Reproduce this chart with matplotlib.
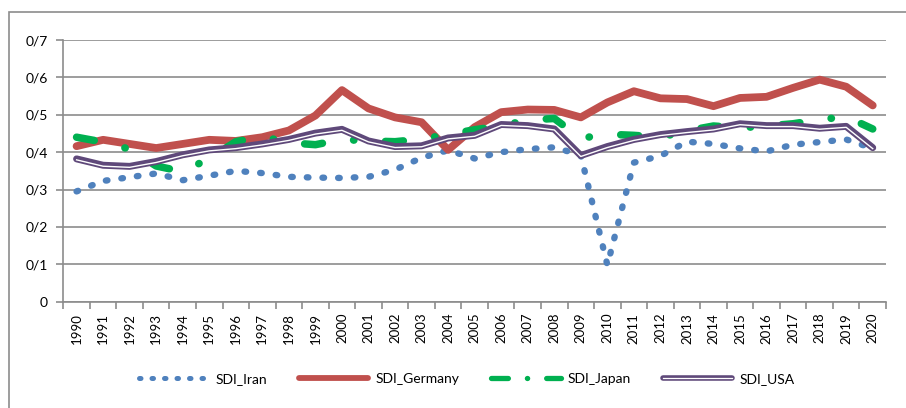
import matplotlib
matplotlib.use("Agg")
import matplotlib.pyplot as plt
import matplotlib.transforms as mtransforms
from matplotlib.lines import Line2D
from matplotlib.patches import Rectangle
from matplotlib.ticker import FixedLocator, FixedFormatter

plt.rcParams['font.family'] = ['Lato', 'DejaVu Sans']

# SDI per year
years = list(range(1990, 2021))
sdi_iran = [0.295, 0.323, 0.333, 0.343, 0.325, 0.337, 0.350, 0.344, 0.334, 0.332,
            0.331, 0.334, 0.353, 0.385, 0.405, 0.383, 0.400, 0.408, 0.413, 0.392,
            0.098, 0.372, 0.390, 0.428, 0.422, 0.410, 0.402, 0.420, 0.427, 0.434,
            0.410]
sdi_germany = [0.416, 0.433, 0.422, 0.411, 0.422, 0.433, 0.430, 0.440, 0.458, 0.498,
               0.566, 0.517, 0.493, 0.480, 0.406, 0.467, 0.507, 0.514, 0.513, 0.493,
               0.533, 0.563, 0.544, 0.542, 0.523, 0.545, 0.548, 0.572, 0.594, 0.575,
               0.525]
sdi_japan = [0.440, 0.427, 0.408, 0.363, 0.348, 0.383, 0.428, 0.442, 0.425, 0.420,
             0.434, 0.430, 0.428, 0.435, 0.447, 0.460, 0.470, 0.486, 0.490, 0.437,
             0.448, 0.445, 0.440, 0.457, 0.470, 0.465, 0.470, 0.476, 0.487, 0.495,
             0.462]
sdi_usa = [0.382, 0.365, 0.362, 0.375, 0.393, 0.406, 0.412, 0.422, 0.434, 0.451,
           0.461, 0.430, 0.415, 0.417, 0.438, 0.445, 0.474, 0.471, 0.462, 0.391,
           0.415, 0.434, 0.447, 0.455, 0.462, 0.476, 0.471, 0.471, 0.464, 0.469,
           0.412]
y_ticks = [0, 0.1, 0.2, 0.3, 0.4, 0.5, 0.6, 0.7]
y_labels = ['0', '0/1', '0/2', '0/3', '0/4', '0/5', '0/6', '0/7']

c_iran = '#4F81BD'
c_germany = '#C0504D'
c_japan = '#00B050'
c_usa = '#5F497A'
c_grid = '#8C8C8C'

fig = plt.figure(figsize=(9.06, 4.08), dpi=100)
ax = fig.add_axes([63.3 / 906, 1 - 301.7 / 408, (886 - 63.3) / 906, (301.7 - 40) / 408])

x = list(range(len(years)))

# Iran: round dots
ax.plot(x, sdi_iran, color=c_iran, lw=4.6, dashes=(0.25, 2.2),
        dash_capstyle='round', zorder=3)
# Germany: thick solid
ax.plot(x, sdi_germany, color=c_germany, lw=5.6, solid_capstyle='round',
        solid_joinstyle='round', zorder=4)
# Japan: long dash - dot
ax.plot(x, sdi_japan, color=c_japan, lw=5.4, dashes=(2.4, 4.2, 0.05, 4.2),
        dash_capstyle='round', zorder=5)
# USA: double line (purple with white inner stripe)
ax.plot(x, sdi_usa, color=c_usa, lw=5.0, solid_capstyle='round',
        solid_joinstyle='round', zorder=6)
shift = mtransforms.ScaledTranslation(0, -0.7 / 72, fig.dpi_scale_trans)
ax.plot(x, sdi_usa, color='white', lw=1.0, solid_joinstyle='round',
        transform=ax.transData + shift, zorder=7)

ax.set_xlim(-0.5, len(years) - 0.5)
ax.set_ylim(0, 0.7)

ax.yaxis.set_major_locator(FixedLocator(y_ticks))
ax.yaxis.set_major_formatter(FixedFormatter(y_labels))
ax.set_xticks(x)
ax.set_xticklabels([str(y) for y in years], rotation=90)
ax.set_xticks([i - 0.5 for i in range(len(years) + 1)], minor=True)

ax.grid(axis='y', color=c_grid, lw=1.2, zorder=0)
ax.set_axisbelow(True)
for s in ['top', 'right']:
    ax.spines[s].set_visible(False)
for s in ['left', 'bottom']:
    ax.spines[s].set_color(c_grid)
    ax.spines[s].set_linewidth(1.2)

ax.tick_params(axis='y', length=5, width=1.2, color=c_grid, labelsize=10, pad=6)
ax.tick_params(axis='x', which='major', length=0, labelsize=9.5, pad=8)
ax.tick_params(axis='x', which='minor', length=5, width=1.2, color=c_grid)

# legend
h_iran = Line2D([], [], color=c_iran, lw=3.6, dashes=(0.3, 2.2), dash_capstyle='round')
h_germany = Line2D([], [], color=c_germany, lw=4.2, solid_capstyle='round')
h_japan = Line2D([], [], color=c_japan, lw=3.8, dashes=(3.2, 3.6, 0.05, 3.6),
                 dash_capstyle='round')
h_usa = (Line2D([], [], color=c_usa, lw=4.0, solid_capstyle='round'),
         Line2D([], [], color='white', lw=0.9))
fig.legend([h_iran, h_germany, h_japan, h_usa],
           ['SDI_Iran', 'SDI_Germany', 'SDI_Japan', 'SDI_USA'],
           loc='center', bbox_to_anchor=(0.515, 0.071), ncol=4, frameon=False,
           fontsize=10, handlelength=5.0, handletextpad=0.5, columnspacing=2.3)

# outer chart border (runs off the right and bottom edges)
fig.patches.append(Rectangle((9 / 906, -0.1), 1.2, 1.1 - 12 / 408, transform=fig.transFigure,
                             fill=False, edgecolor=c_grid, lw=1.2))

fig.savefig('out.png', dpi=100)
